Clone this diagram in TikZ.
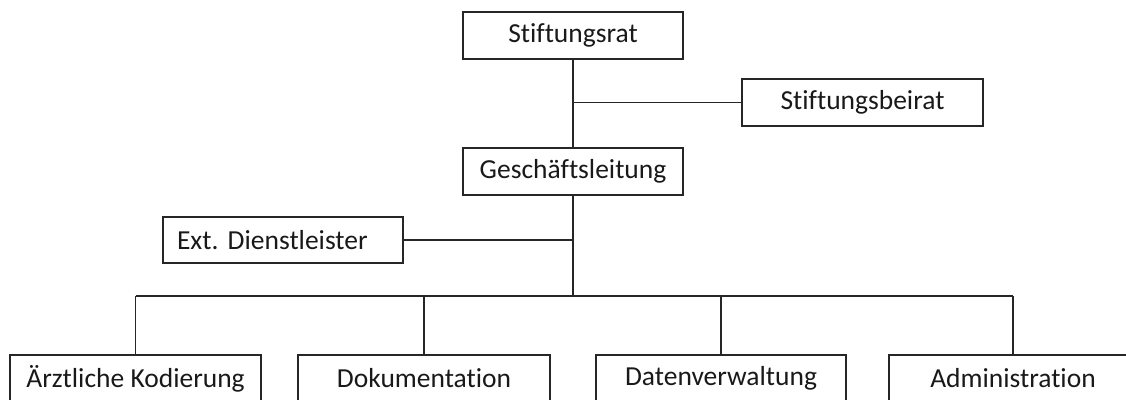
\documentclass[tikz,border=0pt]{standalone}
\usepackage{fontspec}
\setmainfont{Carlito}[Ligatures=NoCommon]
\begin{document}
\begin{tikzpicture}[x=1pt,y=-1pt,
  box/.style={draw=black!85, line width=1.6pt, minimum height=47pt, inner sep=0pt, font=\fontsize{27.5}{32}\selectfont, text=black!90},
  conn/.style={draw=black!85, line width=1.8pt}]
\useasboundingbox (0,0) rectangle (1126,399);
\clip (0,0) rectangle (1126,399);
\node[box, minimum width=220pt] (sr) at (573,35.5) {Stiftungsrat};
\node[box, minimum width=241pt] (sb) at (862.5,102.5) {Stiftungsbeirat};
\node[box, minimum width=220pt] (gl) at (573,171.5) {Geschäftsleitung};
\node[box, minimum height=46pt, text width=212pt, inner xsep=14pt, align=left] (ext) at (283,240) {Ext.\ Dienstleister};
\node[box, minimum width=251pt] (a) at (135.5,378.5) {Ärztliche Kodierung};
\node[box, minimum width=252pt] (b) at (424,378.5) {Dokumentation};
\node[box, minimum width=250pt] (c) at (721,378.5) {Datenverwaltung};
\node[box, minimum width=248pt] (d) at (1013,378.5) {Administration};
\coordinate (bus) at (573,296);
\draw[conn] (sr.south) -- (gl.north);
\draw[conn] (sr.south |- sb.west) -- (sb.west);
\draw[conn] (gl.south) -- (bus);
\draw[conn] (ext.east) -- (gl.south |- ext.east);
\draw[conn] (a.north |- bus) -- (d.north |- bus);
\foreach \n in {a,b,c,d} \draw[conn] (\n.north |- bus) -- (\n.north);
\end{tikzpicture}
\end{document}
